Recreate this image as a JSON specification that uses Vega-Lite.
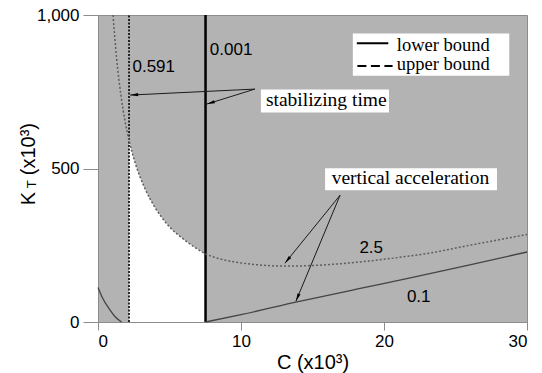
{
  "$schema": "https://vega.github.io/schema/vega-lite/v6.json",
  "width": 429,
  "height": 307,
  "autosize": {"type": "none"},
  "padding": {"left": 98, "top": 15, "right": 15, "bottom": 51},
  "background": "white",
  "config": {
    "view": {"fill": "#b3b3b3", "stroke": "#8c8c8c", "strokeWidth": 1},
    "axis": {
      "grid": false,
      "domainColor": "#8c8c8c",
      "tickColor": "#8c8c8c",
      "labelColor": "#000000",
      "labelFont": "Liberation Sans",
      "labelFontSize": 17,
      "titleFont": "Liberation Sans",
      "titleFontSize": 20,
      "titleFontWeight": "normal",
      "titleColor": "#000000",
      "zindex": 1
    }
  },
  "datasets": {
    "white": [
      {"x": 2.17, "y": 592}, {"x": 2.6, "y": 518}, {"x": 3.27, "y": 436}, {"x": 4.0, "y": 372},
      {"x": 4.44, "y": 342}, {"x": 5.0, "y": 310}, {"x": 5.6, "y": 284}, {"x": 6.2, "y": 262},
      {"x": 6.77, "y": 243}, {"x": 7.52, "y": 222}
    ],
    "upper": [
      {"x": 1.05, "y": 1000}, {"x": 1.3, "y": 860}, {"x": 1.6, "y": 740}, {"x": 1.9, "y": 652},
      {"x": 2.17, "y": 592}, {"x": 2.6, "y": 518}, {"x": 3.27, "y": 436}, {"x": 4.0, "y": 372},
      {"x": 4.44, "y": 342}, {"x": 5.0, "y": 310}, {"x": 5.6, "y": 284}, {"x": 6.2, "y": 262},
      {"x": 6.77, "y": 243}, {"x": 7.52, "y": 222}, {"x": 8.5, "y": 206}, {"x": 9.5, "y": 196},
      {"x": 11, "y": 187}, {"x": 13, "y": 182}, {"x": 15, "y": 184}, {"x": 17, "y": 190},
      {"x": 19, "y": 199}, {"x": 21, "y": 210}, {"x": 23, "y": 223}, {"x": 26, "y": 250},
      {"x": 30, "y": 285}
    ],
    "lowerLeft": [
      {"x": 0, "y": 112}, {"x": 0.3, "y": 80}, {"x": 0.8, "y": 42}, {"x": 1.2, "y": 17}, {"x": 1.65, "y": 0}
    ],
    "lowerRight": [
      {"x": 7.52, "y": 0}, {"x": 10, "y": 24}, {"x": 14, "y": 66}, {"x": 18, "y": 106},
      {"x": 22, "y": 145}, {"x": 26, "y": 186}, {"x": 30, "y": 228}
    ],
    "boxes": [
      {"x": 17.82, "x2": 28.76, "y": 802, "y2": 940},
      {"x": 11.39, "x2": 20.35, "y": 682.8, "y2": 757.7},
      {"x": 15.88, "x2": 27.9, "y": 429.4, "y2": 501}
    ],
    "legendText": [
      {"x": 20.9, "y": 884.3, "label": "lower bound"},
      {"x": 20.9, "y": 822.3, "label": "upper bound"}
    ],
    "serif": [
      {"x": 11.74, "y": 704, "label": "stabilizing time"},
      {"x": 16.34, "y": 449, "label": "vertical acceleration"}
    ],
    "sans": [
      {"x": 2.41, "y": 814, "label": "0.591"},
      {"x": 7.82, "y": 869.6, "label": "0.001"},
      {"x": 18.28, "y": 225, "label": "2.5"},
      {"x": 21.6, "y": 65.2, "label": "0.1"}
    ],
    "arrows": [
      {"x": 10.97, "y": 758.7, "x2": 2.25, "y2": 739.2},
      {"x": 10.97, "y": 758.7, "x2": 7.61, "y2": 709.8},
      {"x": 16.93, "y": 413.1, "x2": 13.07, "y2": 191.4},
      {"x": 16.93, "y": 413.1, "x2": 13.84, "y2": 67.5}
    ]
  },
  "encoding": {
    "x": {
      "field": "x",
      "type": "quantitative",
      "scale": {"domain": [0, 30], "nice": false, "zero": false},
      "axis": {"values": [0, 10, 20, 30], "tickSize": 8, "labelPadding": 3, "titlePadding": 3},
      "title": "C (x10³)"
    },
    "y": {
      "field": "y",
      "type": "quantitative",
      "scale": {"domain": [0, 1000], "nice": false},
      "axis": {"values": [0, 500, 1000], "format": ",.0f", "tickSize": 15, "labelPadding": 4},
      "title": null
    }
  },
  "layer": [
    {
      "data": {"name": "white"},
      "mark": {"type": "area", "color": "white", "interpolate": "monotone"},
      "encoding": {"y2": {"datum": 0}}
    },
    {
      "data": {"values": [{"x": 2.17, "y": 0, "y2": 1000}]},
      "mark": {"type": "rule", "color": "#000000", "strokeWidth": 1.6, "strokeDash": [2, 1.5]},
      "encoding": {"y2": {"field": "y2"}}
    },
    {
      "data": {"values": [{"x": 7.52, "y": 0, "y2": 1000}]},
      "mark": {"type": "rule", "color": "#000000", "strokeWidth": 2.5},
      "encoding": {"y2": {"field": "y2"}}
    },
    {
      "data": {"name": "upper"},
      "mark": {"type": "line", "color": "#5e5e5e", "strokeWidth": 1.5, "strokeDash": [2, 2], "interpolate": "monotone"},
      "encoding": {}
    },
    {
      "data": {"name": "lowerLeft"},
      "mark": {"type": "line", "color": "#444444", "strokeWidth": 1.3, "interpolate": "monotone"},
      "encoding": {}
    },
    {
      "data": {"name": "lowerRight"},
      "mark": {"type": "line", "color": "#444444", "strokeWidth": 1.3, "interpolate": "monotone"},
      "encoding": {}
    },
    {
      "data": {"name": "boxes"},
      "mark": {"type": "rect", "color": "white"},
      "encoding": {"x2": {"field": "x2"}, "y2": {"field": "y2"}}
    },
    {
      "data": {"values": [{"x": 18.1, "x2": 20.3, "y": 908}]},
      "mark": {"type": "rule", "color": "#000000", "strokeWidth": 2},
      "encoding": {"x2": {"field": "x2"}}
    },
    {
      "data": {"values": [{"x": 18.14, "x2": 20.6, "y": 834}]},
      "mark": {"type": "rule", "color": "#000000", "strokeWidth": 2, "strokeDash": [9, 4.5]},
      "encoding": {"x2": {"field": "x2"}}
    },
    {
      "data": {"name": "legendText"},
      "mark": {"type": "text", "font": "Liberation Serif", "fontSize": 18.5, "align": "left", "baseline": "alphabetic", "color": "#000000"},
      "encoding": {"text": {"field": "label"}}
    },
    {
      "data": {"name": "serif"},
      "mark": {"type": "text", "font": "Liberation Serif", "fontSize": 19.5, "align": "left", "baseline": "alphabetic", "color": "#000000"},
      "encoding": {"text": {"field": "label"}}
    },
    {
      "data": {"name": "sans"},
      "mark": {"type": "text", "font": "Liberation Sans", "fontSize": 17, "align": "left", "baseline": "alphabetic", "color": "#000000"},
      "encoding": {"text": {"field": "label"}}
    },
    {
      "data": {"name": "arrows"},
      "mark": {"type": "rule", "color": "#1a1a1a", "strokeWidth": 1},
      "encoding": {"x2": {"field": "x2"}, "y2": {"field": "y2"}}
    },
    {
      "data": {"values": [{"x": 2.53, "y": 739.8}]},
      "mark": {"type": "point", "shape": "M0,-1L0.4,1L-0.4,1Z", "size": 64, "filled": true, "color": "#000000", "opacity": 1, "angle": 267}
    },
    {
      "data": {"values": [{"x": 7.88, "y": 713.7}]},
      "mark": {"type": "point", "shape": "M0,-1L0.4,1L-0.4,1Z", "size": 64, "filled": true, "color": "#000000", "opacity": 1, "angle": 252.6}
    },
    {
      "data": {"values": [{"x": 13.25, "y": 201.5}]},
      "mark": {"type": "point", "shape": "M0,-1L0.4,1L-0.4,1Z", "size": 64, "filled": true, "color": "#000000", "opacity": 1, "angle": 219}
    },
    {
      "data": {"values": [{"x": 13.95, "y": 79.6}]},
      "mark": {"type": "point", "shape": "M0,-1L0.4,1L-0.4,1Z", "size": 64, "filled": true, "color": "#000000", "opacity": 1, "angle": 202.5}
    },
    {
      "data": {"values": [{"x": -4.43, "y": 380.5, "label": "K"}, {"x": -4.43, "y": 478, "label": "(x10³)"}]},
      "mark": {"type": "text", "font": "Liberation Sans", "fontSize": 20, "angle": 270, "align": "left", "baseline": "alphabetic", "color": "#000000"},
      "encoding": {"text": {"field": "label"}}
    },
    {
      "data": {"values": [{"x": -4.33, "y": 436, "label": "T"}]},
      "mark": {"type": "text", "font": "Liberation Sans", "fontSize": 13, "angle": 270, "align": "left", "baseline": "alphabetic", "color": "#000000"},
      "encoding": {"text": {"field": "label"}}
    }
  ]
}
